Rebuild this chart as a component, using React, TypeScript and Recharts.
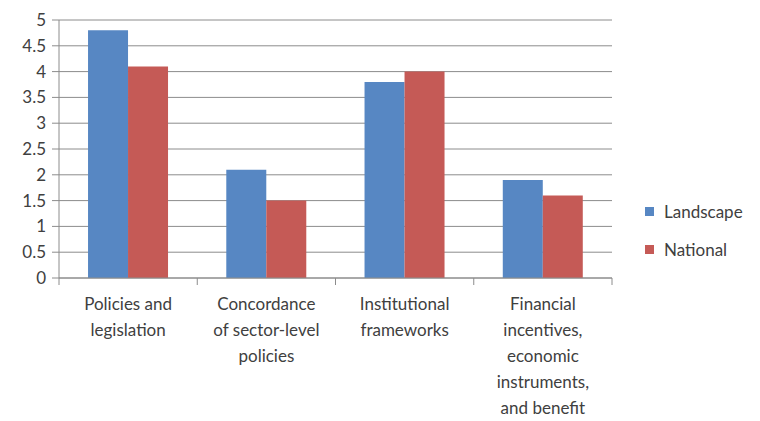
import { Bar, BarChart, CartesianGrid, XAxis, YAxis } from 'recharts';

const categories = [
  'Policies and legislation',
  'Concordance of sector-level policies',
  'Institutional frameworks',
  'Financial incentives, economic instruments, and benefit',
];
const tickLines = [
  ['Policies and', 'legislation'],
  ['Concordance', 'of sector-level', 'policies'],
  ['Institutional', 'frameworks'],
  ['Financial', 'incentives,', 'economic', 'instruments,', 'and benefit'],
];
const landscape = [4.8, 2.1, 3.8, 1.9];
const national = [4.1, 1.5, 4.0, 1.6];
const yTicks = [0, 0.5, 1, 1.5, 2, 2.5, 3, 3.5, 4, 4.5, 5];
const seriesNames = ['Landscape', 'National'];
const seriesColors = ['#5787c3', '#c55a56'];

const data = categories.map((name, i) => ({
  name,
  Landscape: landscape[i],
  National: national[i],
}));

const textColor = '#404040';
const gridColor = '#8c8c8c';
const font = 'Lato, Calibri, sans-serif';

function CategoryTick(props: any) {
  const { x, y, payload, index, visibleTicksCount } = props;
  const half = payload.offset ?? 0;
  const lines = tickLines[index] ?? [];
  return (
    <g>
      <line x1={x - half} x2={x - half} y1={y - 8} y2={y - 1} stroke={gridColor} />
      {index === visibleTicksCount - 1 && (
        <line x1={x + half} x2={x + half} y1={y - 8} y2={y - 1} stroke={gridColor} />
      )}
      <text x={x} y={y + 24} textAnchor="middle" fill={textColor} fontSize={17} fontFamily={font}>
        {lines.map((line, i) => (
          <tspan key={i} x={x} dy={i === 0 ? 0 : 26}>
            {line}
          </tspan>
        ))}
      </text>
    </g>
  );
}

function LegendBox() {
  return (
    <div
      style={{
        position: 'absolute',
        left: 645,
        top: 192,
        fontFamily: font,
        fontSize: 17,
        color: textColor,
      }}
    >
      {seriesNames.map((label, i) => (
        <div key={label} style={{ display: 'flex', alignItems: 'center', height: 38 }}>
          <span style={{ width: 9, height: 9, background: seriesColors[i], marginRight: 10 }} />
          <span>{label}</span>
        </div>
      ))}
    </div>
  );
}

export default function App() {
  return (
    <div style={{ position: 'absolute', left: 0, top: 0, width: 760, height: 421, background: '#fff' }}>
      <BarChart
        width={760}
        height={421}
        data={data}
        margin={{ top: 20, right: 148, bottom: 0, left: 0 }}
        barCategoryGap="21%"
        barGap={0}
      >
        <CartesianGrid vertical={false} stroke={gridColor} />
        <XAxis
          dataKey="name"
          interval={0}
          tickLine={false}
          axisLine={{ stroke: gridColor }}
          tick={<CategoryTick />}
          height={143}
        />
        <YAxis
          domain={[0, 5]}
          ticks={yTicks}
          interval={0}
          width={59}
          tickSize={7}
          tickMargin={6}
          tickLine={{ stroke: gridColor }}
          axisLine={{ stroke: gridColor }}
          tick={{ fill: textColor, fontSize: 17, fontFamily: font }}
        />
        <Bar dataKey="Landscape" fill={seriesColors[0]} isAnimationActive={false} />
        <Bar dataKey="National" fill={seriesColors[1]} isAnimationActive={false} />
      </BarChart>
      <LegendBox />
    </div>
  );
}
